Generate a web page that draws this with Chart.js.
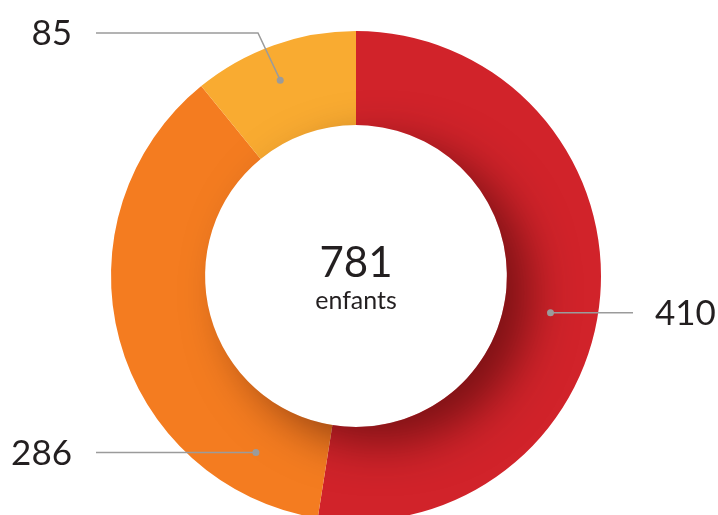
<!DOCTYPE html>
<html>
<head>
<meta charset="utf-8">
<script src="https://cdn.jsdelivr.net/npm/chart.js@4.4.1/dist/chart.umd.min.js"></script>
<style>
  html, body { margin: 0; padding: 0; background: #fff; overflow: hidden; }
  #wrap { width: 718px; height: 515px; overflow: hidden; }
  canvas { display: block; }
</style>
</head>
<body>
<div id="wrap"><canvas id="donut" width="718" height="552"></canvas></div>
<script>
// children per group, clockwise from 12 o'clock
const groups = ['A', 'B', 'C'];
const children = [410, 286, 85];
const sliceColors = ['#D1232A', '#F47C20', '#F9AB31'];
const centerCaption = 'enfants';

const TEXT = '#231F20';
const LEADER = '#9B9B9B';

// inner shadow cast by the hole onto the ring (lower-right side)
const ringShadow = {
    id: 'ringShadow',
    afterDatasetsDraw(chart) {
        const arc = chart.getDatasetMeta(0).data[0];
        if (!arc) return;
        const { x, y, innerRadius, outerRadius } = arc.getProps(['x', 'y', 'innerRadius', 'outerRadius'], true);
        const ctx = chart.ctx;
        ctx.save();
        ctx.beginPath();
        ctx.arc(x, y, outerRadius, 0, Math.PI * 2);
        ctx.arc(x, y, innerRadius, 0, Math.PI * 2, true);
        ctx.clip();
        const dir = 35 * Math.PI / 180;
        ctx.shadowColor = 'rgba(40, 0, 0, 0.5)';
        ctx.shadowBlur = 46;
        ctx.shadowOffsetX = Math.cos(dir) * 30;
        ctx.shadowOffsetY = Math.sin(dir) * 30;
        ctx.fillStyle = '#fff';
        ctx.beginPath();
        ctx.arc(x, y, innerRadius - 1, 0, Math.PI * 2);
        ctx.fill();
        ctx.restore();
    }
};

// value labels with leader lines and the total in the middle
const donutLabels = {
    id: 'donutLabels',
    afterDraw(chart, args, opts) {
        const ctx = chart.ctx;
        const meta = chart.getDatasetMeta(0);
        const values = chart.data.datasets[0].data;
        ctx.save();
        meta.data.forEach((arc, i) => {
            const p = arc.getProps(['x', 'y', 'startAngle', 'endAngle', 'innerRadius', 'outerRadius'], true);
            const lead = opts.leaders[i];
            const a = p.startAngle + (p.endAngle - p.startAngle) * lead.along;
            const r = (p.innerRadius + p.outerRadius) / 2 + (lead.radial || 0);
            const dx = p.x + Math.cos(a) * r;
            const dy = p.y + Math.sin(a) * r;

            ctx.strokeStyle = LEADER;
            ctx.lineWidth = 1.5;
            ctx.beginPath();
            ctx.moveTo(dx, dy);
            let ty = dy;
            if (lead.elbow) {
                ty = lead.elbow.y;
                ctx.lineTo(lead.elbow.x, ty);
            }
            const endX = lead.side === 'right' ? opts.rightLineEnd : opts.leftLineEnd;
            ctx.lineTo(endX, ty);
            ctx.stroke();

            ctx.fillStyle = LEADER;
            ctx.beginPath();
            ctx.arc(dx, dy, 3.5, 0, Math.PI * 2);
            ctx.fill();

            ctx.fillStyle = TEXT;
            ctx.font = '35px Lato';
            ctx.textBaseline = 'middle';
            if (lead.side === 'right') {
                ctx.textAlign = 'left';
                ctx.fillText(String(values[i]), opts.rightTextX, ty + 1);
            } else {
                ctx.textAlign = 'right';
                ctx.fillText(String(values[i]), opts.leftTextX, ty + 1);
            }
        });

        const c = meta.data[0];
        const total = values.reduce((s, v) => s + v, 0);
        ctx.fillStyle = TEXT;
        ctx.textAlign = 'center';
        ctx.textBaseline = 'alphabetic';
        ctx.font = '42px Lato';
        ctx.fillText(String(total), c.x, c.y + 1);
        ctx.font = '25px Lato';
        ctx.fillText(centerCaption, c.x, c.y + 33);
        ctx.restore();
    }
};

document.addEventListener('DOMContentLoaded', () => {
    const ctx = document.getElementById('donut').getContext('2d');
    new Chart(ctx, {
        type: 'doughnut',
        data: {
            labels: groups,
            datasets: [{
                data: children,
                backgroundColor: sliceColors,
                borderWidth: 0
            }]
        },
        options: {
            responsive: false,
            animation: false,
            cutout: '61.6%',
            rotation: 0,
            layout: { padding: { top: 31, bottom: 31, left: 0, right: 6 } },
            plugins: {
                legend: { display: false },
                tooltip: { enabled: false },
                donutLabels: {
                    leftLineEnd: 96,
                    rightLineEnd: 633,
                    leftTextX: 72,
                    rightTextX: 655,
                    leaders: [
                        { along: 0.533, side: 'right' },
                        { along: 0.156, side: 'left', radial: 5 },
                        { along: 0.46, side: 'left', radial: 12, elbow: { x: 258, y: 33 } }
                    ]
                }
            }
        },
        plugins: [ringShadow, donutLabels]
    });
});
</script>
</body>
</html>
